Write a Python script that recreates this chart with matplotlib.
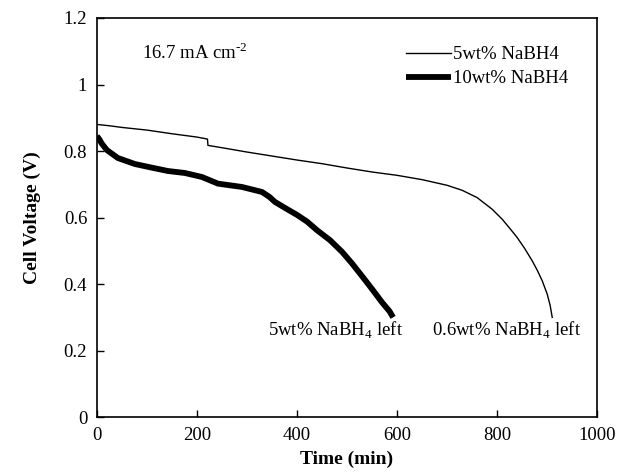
import numpy as np
import matplotlib
matplotlib.use("Agg")
import matplotlib.pyplot as plt
from matplotlib.ticker import FuncFormatter

plt.rcParams['font.family'] = ['Liberation Serif', 'DejaVu Serif']
plt.rcParams['mathtext.fontset'] = 'custom'
plt.rcParams['mathtext.rm'] = 'Liberation Serif'

# 5wt% NaBH4 (thin line)
t_5 = [0, 25, 50, 100, 150, 200, 221, 222, 250, 300, 350, 400, 450, 500, 550,
       600, 650, 700, 730, 760, 790, 810, 825, 840, 855, 870, 880, 890, 900,
       906, 910]
v_5 = [0.880, 0.876, 0.871, 0.863, 0.852, 0.842, 0.836, 0.817, 0.810, 0.797,
       0.785, 0.773, 0.762, 0.749, 0.737, 0.727, 0.714, 0.697, 0.682, 0.660,
       0.625, 0.595, 0.568, 0.540, 0.507, 0.470, 0.442, 0.410, 0.370, 0.335,
       0.300]

# 10wt% NaBH4 (thick line)
t_10 = [0, 5, 10, 20, 42, 76, 110, 142, 176, 210, 242, 290, 330, 345, 356, 376,
        400, 420, 440, 466, 490, 510, 532, 550, 570, 585, 592]
v_10 = [0.845, 0.835, 0.822, 0.803, 0.779, 0.761, 0.750, 0.740, 0.734, 0.722,
        0.702, 0.692, 0.677, 0.662, 0.647, 0.629, 0.608, 0.588, 0.562, 0.532,
        0.497, 0.462, 0.420, 0.385, 0.345, 0.318, 0.300]

xticks = [0, 200, 400, 600, 800, 1000]
yticks = [0, 0.2, 0.4, 0.6, 0.8, 1.0, 1.2]

fig = plt.figure(figsize=(6.17, 4.73), dpi=100)
ax = fig.add_axes([0.157, 0.118, 0.811, 0.844])

ax.plot(t_5, v_5, color='black', lw=1.0, label='5wt% NaBH4')
ax.plot(t_10, v_10, color='black', lw=4.2, solid_capstyle='butt', label='10wt% NaBH4')

ax.set_xlim(0, 1000)
ax.set_ylim(0, 1.2)
ax.set_xticks(xticks)
ax.set_yticks(yticks)
ax.yaxis.set_major_formatter(FuncFormatter(lambda v, p: '%g' % v))
ax.tick_params(direction='in', length=5, width=1, labelsize=13.5,
               top=False, right=False, pad=7)
for s in ax.spines.values():
    s.set_linewidth(1.2)

ax.set_xlabel('Time (min)', fontsize=14, fontweight='bold', labelpad=5)
ax.set_ylabel('Cell Voltage (V)', fontsize=14, fontweight='bold', labelpad=16)

ax.text(90, 1.097, r'16.7 mA cm$^{\text{-}2}$', fontsize=13.5, va='center')
ax.text(612, 0.262, r'5wt% NaBH$_4$ left', fontsize=13.5, va='center', ha='right')
ax.text(818, 0.262, r'0.6wt% NaBH$_4$ left', fontsize=13.5, va='center', ha='center')

ax.legend(loc='upper right', frameon=False, fontsize=13.5, handlelength=2.4,
          handletextpad=0.1, borderaxespad=0.3, labelspacing=0.35,
          bbox_to_anchor=(0.968, 0.962))

fig.savefig('out.png', dpi=100)
